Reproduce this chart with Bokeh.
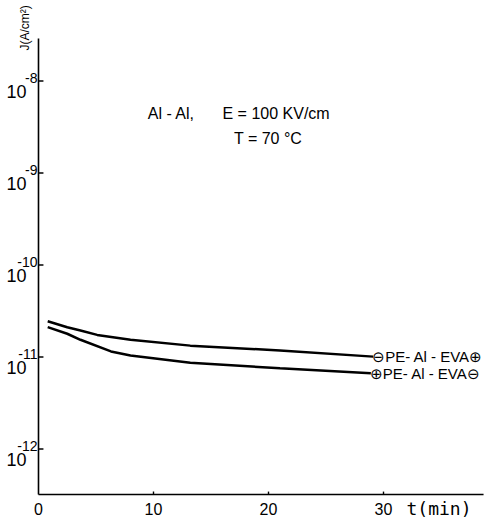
from bokeh.plotting import figure
from bokeh.models import Range1d, Label
from bokeh.embed import file_html
from bokeh.resources import INLINE

# Current density J (A/cm^2) versus time t (min), Al-Al electrodes, E = 100 kV/cm, T = 70 C
t_upper = [0.8, 2.5, 3.65, 5.1, 8.0, 13.2, 21.0, 29.1]
j_upper = [2.45e-11, 2.11e-11, 1.94e-11, 1.74e-11, 1.54e-11, 1.33e-11, 1.18e-11, 1.01e-11]
label_upper = "\u2296PE- Al - EVA\u2295"

t_lower = [0.8, 2.5, 3.65, 6.3, 8.0, 13.2, 21.0, 28.9]
j_lower = [2.11e-11, 1.79e-11, 1.54e-11, 1.15e-11, 1.04e-11, 8.65e-12, 7.55e-12, 6.67e-12]
label_lower = "\u2295PE- Al - EVA\u2296"

x_ticks = [0, 10, 20, 30]
y_exponents = [-12, -11, -10, -9, -8]

FONT = "Liberation Sans"

# axis extents (data units)
T0, T1 = 0.0, 38.7
J0, J1 = 10 ** -12.495, 10 ** -7.538

# the plotting area fills the whole page; axes are drawn as lines inside it
p = figure(width=494, height=526, y_axis_type="log",
           x_range=Range1d(-3.304, 39.652), y_range=Range1d(10 ** -12.842, 10 ** -7.125),
           output_backend="svg", toolbar_location=None, min_border=0)
p.axis.visible = False
p.grid.visible = False
p.outline_line_color = None
p.background_fill_color = "white"
p.border_fill_color = "white"

# axis lines
p.segment(x0=[T0, T0], y0=[J0, J0], x1=[T0, T1], y1=[J1, J0],
          line_color="black", line_width=1.6)

# y ticks (pointing right) and labels "10" with a raised exponent
y_tick_vals = [10.0 ** e for e in y_exponents]
p.segment(x0=[T0] * len(y_tick_vals), y0=y_tick_vals,
          x1=[T0 + 0.43] * len(y_tick_vals), y1=y_tick_vals,
          line_color="black", line_width=1.4)
for e, v in zip(y_exponents, y_tick_vals):
    p.add_layout(Label(x=T0, y=v, text="10", x_offset=-12, y_offset=-10,
                       text_align="right", text_baseline="middle",
                       text_font=FONT, text_font_size="18px", text_color="black"))
    p.add_layout(Label(x=T0, y=v, text=str(e), x_offset=-1, y_offset=3,
                       text_align="right", text_baseline="middle",
                       text_font=FONT, text_font_size="14px", text_color="black"))

# x ticks (pointing up) and labels
x_inner = [t for t in x_ticks if t > T0]
p.segment(x0=x_inner, y0=[J0] * len(x_inner), x1=x_inner,
          y1=[J0 * 10 ** (3 / 92)] * len(x_inner), line_color="black", line_width=1.4)
for t in x_ticks:
    p.add_layout(Label(x=t, y=J0, text=str(t), y_offset=-14,
                       text_align="center", text_baseline="middle",
                       text_font=FONT, text_font_size="16px", text_color="black"))

# axis titles
p.add_layout(Label(x=T0, y=10 ** -7.668, text="J(A/cm\u00b2)", x_offset=-13, angle=1.5708,
                   text_align="left", text_baseline="middle",
                   text_font=FONT, text_font_size="12px", text_color="black"))
p.add_layout(Label(x=32.0, y=J0, text="t(min)", y_offset=-14,
                   text_align="left", text_baseline="middle",
                   text_font="DejaVu Sans Mono", text_font_size="18px", text_color="black"))

# curves
p.line(t_upper, j_upper, line_color="black", line_width=2.5)
p.line(t_lower, j_lower, line_color="black", line_width=2.5)

p.add_layout(Label(x=t_upper[-1], y=j_upper[-1], text=label_upper, x_offset=-1,
                   text_align="left", text_baseline="middle",
                   text_font=FONT, text_font_size="15px", text_color="black"))
p.add_layout(Label(x=t_lower[-1], y=j_lower[-1], text=label_lower, x_offset=-1,
                   text_align="left", text_baseline="middle",
                   text_font=FONT, text_font_size="15px", text_color="black"))

# test conditions
p.add_layout(Label(x=9.5, y=10 ** -8.353, text="Al - Al,", text_align="left",
                   text_baseline="middle", text_font=FONT, text_font_size="16px",
                   text_color="black"))
p.add_layout(Label(x=16.0, y=10 ** -8.353, text="E = 100 KV/cm", text_align="left",
                   text_baseline="middle", text_font=FONT, text_font_size="16px",
                   text_color="black"))
p.add_layout(Label(x=17.0, y=10 ** -8.625, text="T = 70 \u00b0C", text_align="left",
                   text_baseline="middle", text_font=FONT, text_font_size="16px",
                   text_color="black"))

open("out.html", "w").write(file_html(p, INLINE))
